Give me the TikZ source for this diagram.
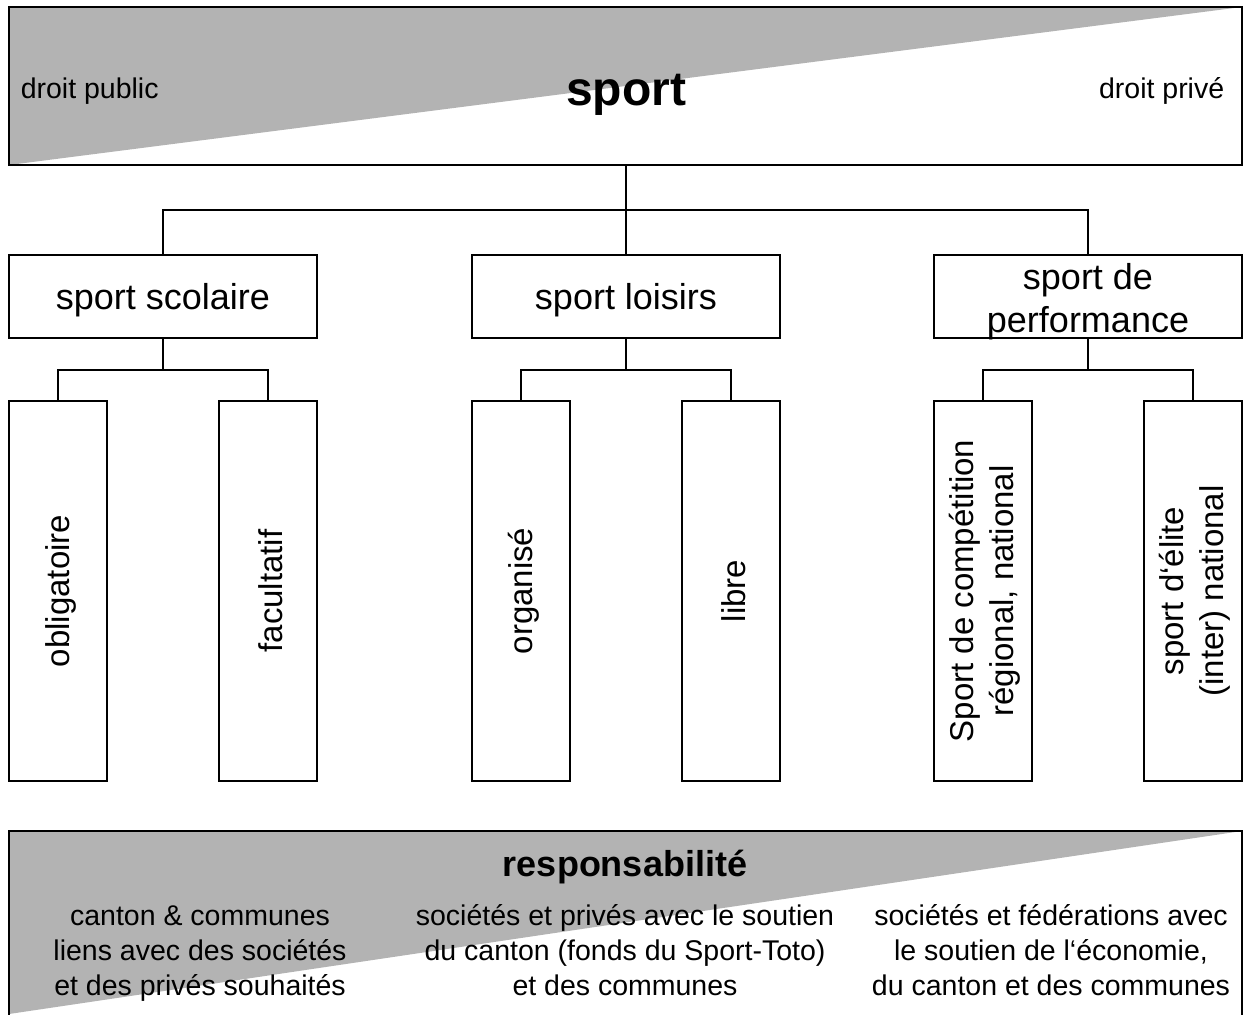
\documentclass[tikz,border=0pt]{standalone}
\usepackage{fontspec}
\setmainfont{Liberation Sans}
\usepackage{tikz}
\definecolor{bandgray}{HTML}{B3B3B3}

\begin{document}
\begin{tikzpicture}[x=1pt, y=-1pt, line width=1.6pt,
    box/.style={draw, rectangle, inner sep=0pt, minimum width=308pt, minimum height=83pt},
    boxtext/.style={inner sep=0pt, align=center, font=\fontsize{36}{43}\selectfont},
    tallbox/.style={draw, rectangle, inner sep=0pt, minimum width=98pt, minimum height=380pt},
    vlabel/.style={rotate=90, align=center, inner sep=0pt, font=\fontsize{33}{40}\selectfont},
    plain/.style={inner sep=0pt, align=center, font=\fontsize{28.5}{35}\selectfont}]
\useasboundingbox (0,0) rectangle (1244,1014);
% top band
\fill[bandgray] (9,7) -- (1242,7) -- (9,165) -- cycle;
\node[draw, rectangle, minimum width=1233pt, minimum height=158pt] (band) at (625.5,86) {};
\node[plain, anchor=west] (pub) at (20,91) {droit public};
\node[plain, anchor=east] (priv) at (1225,91) {droit privé};
\node[inner sep=0pt, font=\fontsize{48}{56}\selectfont\bfseries] (sport) at (626,95) {sport};
% first level
\node[box] (scol) at (163,296.5) {};
\node[box] (loi) at (626,296.5) {};
\node[box] (perf) at (1088,296.5) {};
\node[boxtext] at ([yshift=-4pt]scol.center) {sport scolaire};
\node[boxtext] at ([yshift=-4pt]loi.center) {sport loisirs};
\node[boxtext] at ([yshift=-5pt]perf.center) {sport de\\performance};
% second level
\node[tallbox] (obl) at (58,591) {};
\node[tallbox] (fac) at (268,591) {};
\node[tallbox] (org) at (521,591) {};
\node[tallbox] (lib) at (731,591) {};
\node[tallbox] (comp) at (983,591) {};
\node[tallbox] (elite) at (1193,591) {};
\node[vlabel] at ([xshift=3pt]obl.center) {obligatoire};
\node[vlabel] at ([xshift=3pt]fac.center) {facultatif};
\node[vlabel] at ([xshift=3pt]org.center) {organisé};
\node[vlabel] at ([xshift=3pt]lib.center) {libre};
\node[vlabel] at ([xshift=2pt]comp.center) {Sport de compétition\\régional, national};
\node[vlabel] at ([xshift=2pt]elite.center) {sport d‘élite\\(inter) national};
% connectors
\coordinate (j0) at (626,210);
\draw (band.south -| j0) -- (loi.north);
\draw (scol.north) |- (j0) -| (perf.north);
\coordinate (j1) at (163,370);
\coordinate (j2) at (626,370);
\coordinate (j3) at (1088,370);
\draw (scol.south) -- (j1);
\draw (obl.north) |- (j1) -| (fac.north);
\draw (loi.south) -- (j2);
\draw (org.north) |- (j2) -| (lib.north);
\draw (perf.south) -- (j3);
\draw (comp.north) |- (j3) -| (elite.north);
% bottom band
\fill[bandgray] (9,831) -- (1242,831) -- (9,1014) -- cycle;
\draw (9,1030) -- (9,831) -- (1242,831) -- (1242,1030);
\node[inner sep=0pt, font=\fontsize{36}{43}\selectfont\bfseries] (resp) at (625,867) {responsabilité};
\node[plain] (cant) at (200,954) {canton \& communes\\liens avec des sociétés\\et des privés souhaités};
\node[plain] (soc) at (625,950) {sociétés et privés avec le soutien\\du canton (fonds du Sport-Toto)\\et des communes};
\node[plain] (fed) at (1051,950) {sociétés et fédérations avec\\le soutien de l‘économie,\\du canton et des communes};
\end{tikzpicture}
\end{document}
